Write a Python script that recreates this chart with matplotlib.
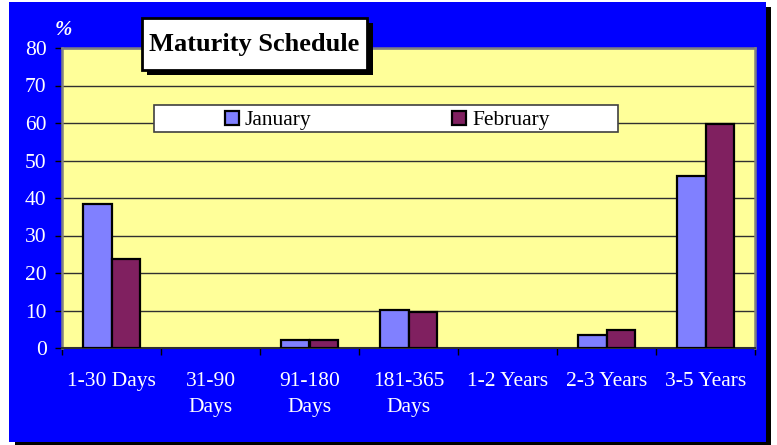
import numpy as np
import matplotlib.pyplot as plt
from matplotlib.patches import Rectangle

# data
categories = ['1-30 Days', '31-90\nDays', '91-180\nDays', '181-365\nDays',
              '1-2 Years', '2-3 Years', '3-5 Years']
january = [38.5, 0, 2.1, 10.1, 0, 3.5, 46.0]
february = [23.7, 0, 2.1, 9.7, 0, 4.8, 59.7]
yticks = [0, 10, 20, 30, 40, 50, 60, 70, 80]

W, H = 777, 445
plt.rcParams['font.family'] = ['Liberation Serif', 'DejaVu Serif']

fig = plt.figure(figsize=(W / 100, H / 100), dpi=100, facecolor='white')


# rectangle from top-left pixel coords -> figure fraction
def box(x0, y0, x1, y1, **kw):
    r = Rectangle((x0 / W, 1 - y1 / H), (x1 - x0) / W, (y1 - y0) / H,
                  transform=fig.transFigure, **kw)
    fig.add_artist(r)
    return r


# blue background with black drop shadow
box(15, 7, 771, 447, facecolor='black', edgecolor='none', zorder=-10)
box(9, 2, 766, 442, facecolor='#0000ff', edgecolor='none', zorder=-9)

ax = fig.add_axes([62 / W, 1 - 348 / H, (755 - 62) / W, (348 - 48) / H])
ax.set_facecolor('#ffff99')

x = np.arange(len(categories))
bw = 0.285
# no outline for empty bars
lw_jan = [1.6 if v > 0 else 0 for v in january]
lw_feb = [1.6 if v > 0 else 0 for v in february]
ax.bar(x - bw / 2, january, bw, color='#8080ff', edgecolor='black', linewidth=lw_jan, zorder=3, label='January')
ax.bar(x + bw / 2, february, bw, color='#802060', edgecolor='black', linewidth=lw_feb, zorder=3, label='February')

ax.set_xlim(-0.5, len(categories) - 0.5)
ax.set_ylim(0, 80)
ax.set_yticks(yticks)
ax.yaxis.grid(True, color='#303030', linewidth=1, zorder=1)
ax.set_axisbelow(True)

ax.set_xticks(x)
ax.set_xticklabels(categories, linespacing=1.5)
ax.set_xticks(np.arange(-0.5, len(categories)), minor=True)
ax.tick_params(axis='x', which='major', length=0, pad=17, colors='white', labelsize=15.5)
ax.tick_params(axis='x', which='minor', length=5, width=1, color='black', direction='out')
ax.tick_params(axis='y', length=5, width=1, color='black', pad=6, labelcolor='white', labelsize=15.5)

for s in ['left', 'right', 'top']:
    ax.spines[s].set_color('#808080')
    ax.spines[s].set_linewidth(1.8)
ax.spines['bottom'].set_color('#303030')
ax.spines['bottom'].set_linewidth(1.5)

# % label
fig.text(63 / W, 1 - 30 / H, '%', color='white', fontsize=15, fontstyle='italic',
         fontweight='bold', ha='center', va='center')

# title box
box(147, 23, 373, 75, facecolor='black', edgecolor='none', zorder=5)
box(142, 18, 367, 70, facecolor='white', edgecolor='black', linewidth=2, zorder=6)
fig.text(254 / W, 1 - 45 / H, 'Maturity Schedule', fontsize=19, fontweight='bold',
         ha='center', va='center', zorder=7)

# legend box
box(154, 105, 618, 132, facecolor='white', edgecolor='#404040', linewidth=1.2, zorder=5)
handles, labels = ax.get_legend_handles_labels()
leg = fig.legend(handles, labels, loc='center', bbox_to_anchor=(387 / W, 1 - 120.5 / H),
                 ncol=2, frameon=False, fontsize=15.5, handlelength=0.65, handleheight=0.65,
                 handletextpad=0.3, columnspacing=6.5, borderpad=0)
leg.set_zorder(7)

fig.savefig('out.png', dpi=100, facecolor='white')
